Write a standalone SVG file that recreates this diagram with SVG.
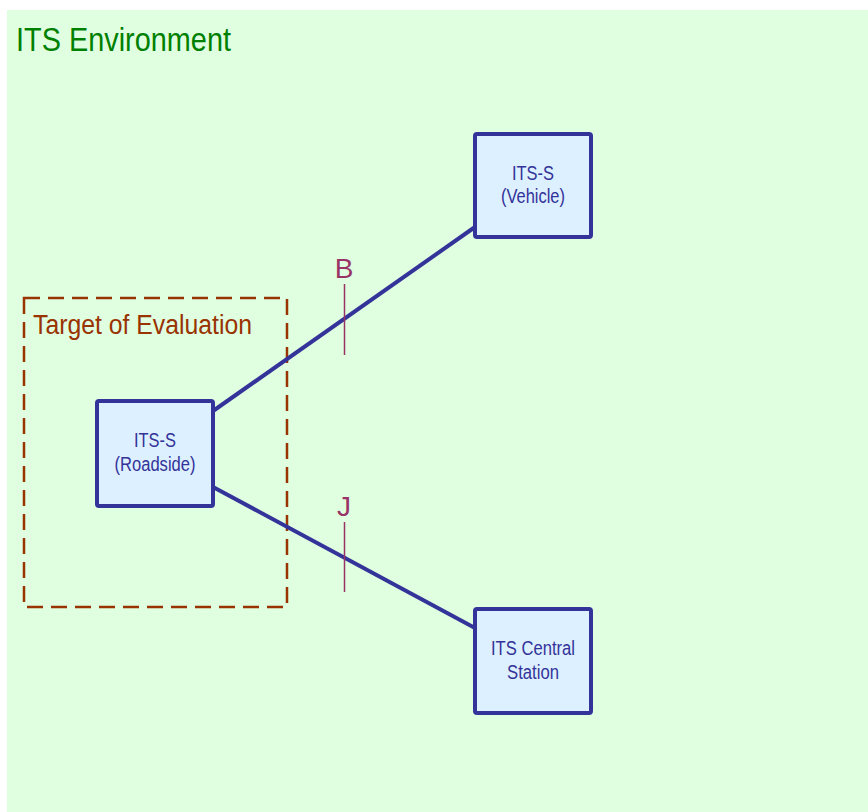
<svg xmlns="http://www.w3.org/2000/svg" width="868" height="812" viewBox="0 0 868 812">
<style>
.node rect{fill:#ddf0ff;stroke:#333399;stroke-width:4}
.node text{font-family:"Liberation Sans Narrow","Liberation Sans",Arial,sans-serif;font-size:20px;fill:#333399;text-anchor:middle}
.conn line{stroke:#333399;stroke-width:4}
.tick{stroke:#993366;stroke-width:1.5}
.ref{font-family:"Liberation Sans Narrow","Liberation Sans",Arial,sans-serif;font-size:28px;fill:#993366;text-anchor:middle}
</style>
<rect x="0" y="0" width="868" height="812" fill="#ffffff"/>
<g id="env">
<rect x="7" y="10" width="861" height="802" fill="#e0ffe0"/>
<text x="16" y="51" font-family="Liberation Sans Narrow,Liberation Sans,Arial,sans-serif" font-size="34" fill="#008000" textLength="215" lengthAdjust="spacingAndGlyphs">ITS Environment</text>
</g>
<g id="toe">
<rect x="24" y="298" width="263" height="309" fill="none" stroke="#993300" stroke-width="2.5" stroke-dasharray="16 8"/>
<text x="33" y="334" font-family="Liberation Sans Narrow,Liberation Sans,Arial,sans-serif" font-size="27" fill="#993300" textLength="219" lengthAdjust="spacingAndGlyphs">Target of Evaluation</text>
</g>
<g id="connectors" class="conn">
<line x1="213" y1="411" x2="475" y2="227"/>
<line x1="213" y1="487" x2="475" y2="628"/>
</g>
<g id="refB">
<line class="tick" x1="344.5" y1="284" x2="344.5" y2="355"/>
<text class="ref" x="344" y="278">B</text>
</g>
<g id="refJ">
<line class="tick" x1="344.5" y1="522" x2="344.5" y2="592"/>
<text class="ref" x="344" y="516">J</text>
</g>
<g id="vehicle" class="node">
<rect x="475" y="134" width="116" height="103" rx="2"/>
<text x="533" y="180" textLength="42" lengthAdjust="spacingAndGlyphs">ITS-S</text>
<text x="533" y="203" textLength="64" lengthAdjust="spacingAndGlyphs">(Vehicle)</text>
</g>
<g id="roadside" class="node">
<rect x="97" y="401" width="116" height="105" rx="2"/>
<text x="155" y="447" textLength="42" lengthAdjust="spacingAndGlyphs">ITS-S</text>
<text x="155" y="471" textLength="81" lengthAdjust="spacingAndGlyphs">(Roadside)</text>
</g>
<g id="central" class="node">
<rect x="475" y="609" width="116" height="104" rx="2"/>
<text x="533" y="655" textLength="84" lengthAdjust="spacingAndGlyphs">ITS Central</text>
<text x="533" y="679" textLength="52" lengthAdjust="spacingAndGlyphs">Station</text>
</g>
</svg>
